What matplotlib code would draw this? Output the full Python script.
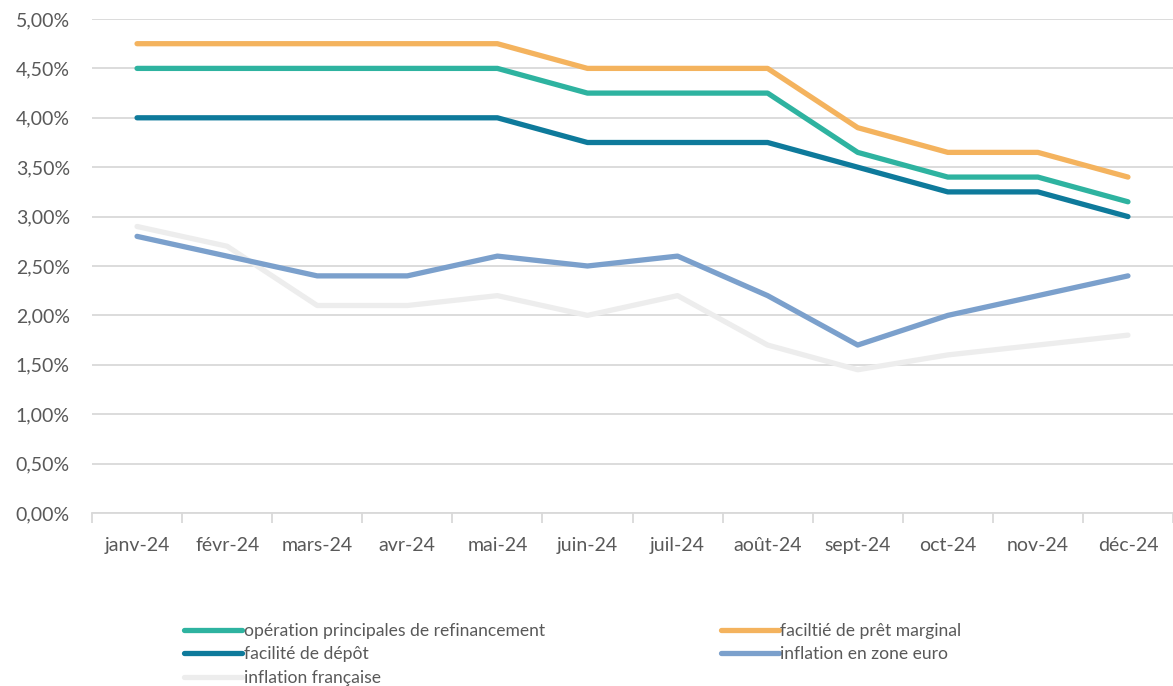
import numpy as np
import matplotlib
matplotlib.use('Agg')
import matplotlib.pyplot as plt
from matplotlib.ticker import FuncFormatter

plt.rcParams['font.family'] = ['Lato', 'DejaVu Sans']

## data (percent)
months = ['janv-24', 'févr-24', 'mars-24', 'avr-24', 'mai-24', 'juin-24',
          'juil-24', 'août-24', 'sept-24', 'oct-24', 'nov-24', 'déc-24']
refi = [4.50, 4.50, 4.50, 4.50, 4.50, 4.25, 4.25, 4.25, 3.65, 3.40, 3.40, 3.15]
marginal = [4.75, 4.75, 4.75, 4.75, 4.75, 4.50, 4.50, 4.50, 3.90, 3.65, 3.65, 3.40]
depot = [4.00, 4.00, 4.00, 4.00, 4.00, 3.75, 3.75, 3.75, 3.50, 3.25, 3.25, 3.00]
infl_euro = [2.8, 2.6, 2.4, 2.4, 2.6, 2.5, 2.6, 2.2, 1.7, 2.0, 2.2, 2.4]
infl_fr = [2.9, 2.7, 2.1, 2.1, 2.2, 2.0, 2.2, 1.7, 1.45, 1.6, 1.7, 1.8]

labels = ['opération principales de refinancement', 'facilité de dépôt', 'inflation française',
          'faciltié de prêt marginal', 'inflation en zone euro']

fig = plt.figure(figsize=(11.73, 6.86), dpi=100)
ax = fig.add_axes([92/1173, 1-513/686, 1-92/1173, (513-19)/686])

x = np.arange(len(months))
lw = 3.8
l_fr, = ax.plot(x, infl_fr, color='#EDEDED', lw=lw, solid_capstyle='round', solid_joinstyle='round')
l_eu, = ax.plot(x, infl_euro, color='#7BA0CC', lw=lw, solid_capstyle='round', solid_joinstyle='round')
l_dep, = ax.plot(x, depot, color='#0E7A9B', lw=lw, solid_capstyle='round', solid_joinstyle='round')
l_ref, = ax.plot(x, refi, color='#2EB3A0', lw=lw, solid_capstyle='round', solid_joinstyle='round')
l_mar, = ax.plot(x, marginal, color='#F4B35E', lw=lw, solid_capstyle='round', solid_joinstyle='round')

ax.set_xlim(-0.5, len(months) - 0.5)
ax.set_ylim(0, 5)
ax.set_yticks(np.arange(0, 5.01, 0.5))
ax.yaxis.set_major_formatter(FuncFormatter(lambda v, p: ('%.2f%%' % v).replace('.', ',')))
ax.grid(axis='y', color='#D9D9D9', lw=1.3)
ax.set_axisbelow(True)

# boundary ticks (marks only) and centre ticks (labels only)
ax.set_xticks(np.arange(-0.5, len(months), 1.0))
ax.set_xticklabels([])
ax.set_xticks(x, minor=True)
ax.set_xticklabels(months, minor=True)
ax.tick_params(axis='x', which='major', length=7, width=1.3, color='#D9D9D9')
ax.tick_params(axis='x', which='minor', length=0, pad=17, labelsize=14, labelcolor='#595959')
ax.tick_params(axis='y', length=0, pad=16, labelsize=14, labelcolor='#595959')

for s in ['top', 'right', 'left']:
    ax.spines[s].set_visible(False)
ax.spines['bottom'].set_color('#D9D9D9')
ax.spines['bottom'].set_linewidth(1.3)

leg_kw = dict(frameon=False, fontsize=12.6, handlelength=3.3, handletextpad=0.1,
              labelspacing=0.42, borderpad=0, borderaxespad=0, labelcolor='#595959')
fig.legend([l_ref, l_dep, l_fr], labels[:3], loc='upper left',
           bbox_to_anchor=(184/1173, 1-623/686), **leg_kw)
fig.legend([l_mar, l_eu], labels[3:], loc='upper left',
           bbox_to_anchor=(721/1173, 1-623/686), **leg_kw)

plt.savefig('out.png', dpi=100, facecolor='white')
